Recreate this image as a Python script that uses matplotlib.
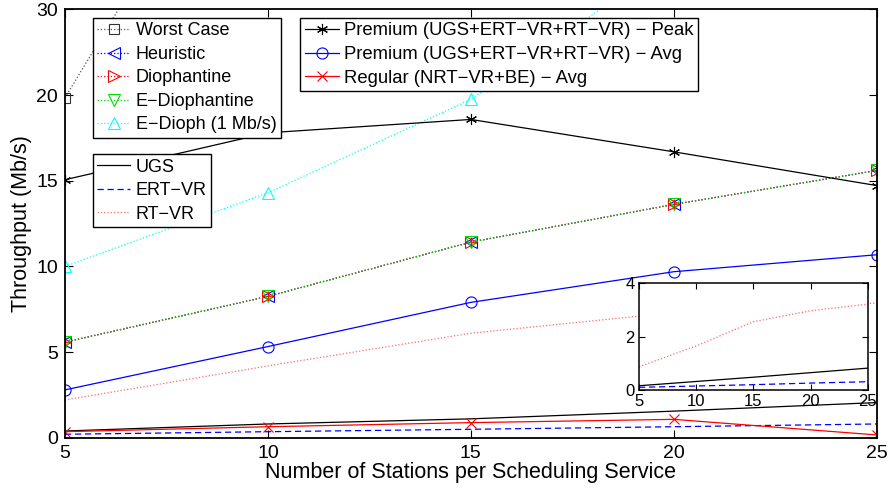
import matplotlib
matplotlib.use("Agg")
import matplotlib.pyplot as plt

plt.rcParams['font.family'] = ['Liberation Sans', 'DejaVu Sans']

stations = [5, 10, 15, 20, 25]

# Allocation schemes (Mb/s)
worst_case = [19.85, 39.4, 59.0, 78.5, 98.0]
heuristic = [5.58, 8.25, 11.42, 13.62, 15.6]
diophantine = [5.58, 8.25, 11.42, 13.62, 15.6]
e_diophantine = [5.58, 8.25, 11.42, 13.62, 15.6]
e_dioph_1mbps = [10.0, 14.3, 19.75, 28.0, 36.0]

# Per-service throughput (Mb/s)
ugs = [0.39, 0.8, 1.1, 1.55, 2.05]
ert_vr = [0.2, 0.35, 0.49, 0.64, 0.8]
rt_vr = [2.2, 4.19, 6.1, 7.3, 7.86]

premium_peak = [15.06, 17.8, 18.58, 16.69, 14.72]
premium_avg = [2.79, 5.32, 7.9, 9.69, 10.68]
regular_avg = [0.35, 0.64, 0.88, 1.07, 0.16]

# Inset series
inset_ugs = [0.16, 0.32, 0.48, 0.65, 0.82]
inset_ert_vr = [0.1, 0.15, 0.2, 0.26, 0.31]
inset_rt_vr = [0.87, 1.65, 2.56, 2.97, 3.22]

y_ticks = [0, 5, 10, 15, 20, 25]
y_tick_labels = ['0', '5', '10', '15', '20', '30']
x_ticks = [5, 10, 15, 20, 25]

PINK = '#ff6a6a'
LW = 0.9
ASTERISK = (6, 2, 0)

fig = plt.figure(figsize=(8.89, 4.94), dpi=100)
ax = fig.add_axes([0.0731, 0.114, 0.9131, 0.8668])

ms = 8
h_worst, = ax.plot(stations, worst_case, ':', color='#555555', lw=LW,
                   marker='s', ms=7, mfc='none', mec='#333333', mew=0.8)
h_heur, = ax.plot(stations, heuristic, ':', color='blue', lw=LW,
                  marker='<', ms=ms, mfc='none', mec='blue', mew=0.8)
h_dio, = ax.plot(stations, diophantine, ':', color='red', lw=LW,
                 marker='>', ms=ms, mfc='none', mec='red', mew=0.8)
ax.plot(stations, diophantine, linestyle='none', marker='+', ms=7,
        mec='red', mew=0.9)
h_edio, = ax.plot(stations, e_diophantine, ':', color='#00cc00', lw=LW,
                  marker='v', ms=ms, mfc='none', mec='#00dd00', mew=0.8)
h_e1, = ax.plot(stations, e_dioph_1mbps, ':', color='cyan', lw=LW,
                marker='^', ms=ms, mfc='none', mec='cyan', mew=0.8)

h_ugs, = ax.plot(stations, ugs, '-', color='black', lw=LW)
h_ert, = ax.plot(stations, ert_vr, '--', color='blue', lw=LW, dashes=(5, 3))
h_rt, = ax.plot(stations, rt_vr, ':', color=PINK, lw=LW)

h_peak, = ax.plot(stations, premium_peak, '-', color='black', lw=LW,
                  marker=ASTERISK, ms=8, mfc='none', mec='black', mew=0.8)
h_avg, = ax.plot(stations, premium_avg, '-', color='blue', lw=LW,
                 marker='o', ms=8, mfc='none', mec='blue', mew=0.8)
h_reg, = ax.plot(stations, regular_avg, '-', color='red', lw=LW,
                 marker='x', ms=7, mec='red', mew=0.8)

ax.set_xlim(5, 25)
ax.set_ylim(0, 25)
ax.set_xticks(x_ticks)
ax.set_yticks(y_ticks)
ax.set_yticklabels(y_tick_labels)
ax.tick_params(direction='in', length=6, width=0.8, top=True, right=True,
               labelsize=14, pad=5)
for sp in ax.spines.values():
    sp.set_linewidth(1.3)
ax.set_xlabel('Number of Stations per Scheduling Service', fontsize=15.5, labelpad=0)
ax.set_ylabel('Throughput (Mb/s)', fontsize=15.5, labelpad=3)

leg_kw = dict(frameon=True, fancybox=False, framealpha=1,
              edgecolor='black', borderpad=0.25, labelspacing=0.36,
              handlelength=1.85, handletextpad=0.3, borderaxespad=0)

leg1 = ax.legend([h_worst, h_heur, h_dio, h_edio, h_e1],
                 ['Worst Case', 'Heuristic', 'Diophantine', 'E\u2212Diophantine',
                  'E\u2212Dioph (1 Mb/s)'],
                 loc='upper left', bbox_to_anchor=(0.0339, 0.9805),
                 fontsize=13, **leg_kw)
leg1.get_frame().set_linewidth(1.0)
ax.add_artist(leg1)

leg2 = ax.legend([h_ugs, h_ert, h_rt], ['UGS', 'ERT\u2212VR', 'RT\u2212VR'],
                 loc='upper left', bbox_to_anchor=(0.0339, 0.662),
                 fontsize=13, **leg_kw)
leg2.get_frame().set_linewidth(1.0)
ax.add_artist(leg2)

leg3 = ax.legend([h_peak, h_avg, h_reg],
                 ['Premium (UGS+ERT\u2212VR+RT\u2212VR) \u2212 Peak',
                  'Premium (UGS+ERT\u2212VR+RT\u2212VR) \u2212 Avg',
                  'Regular (NRT\u2212VR+BE) \u2212 Avg'],
                 loc='upper left', bbox_to_anchor=(0.2895, 0.9805),
                 fontsize=13.3, **leg_kw)
leg3.get_frame().set_linewidth(1.0)

# Inset
axi = fig.add_axes([0.7188, 0.2105, 0.2572, 0.216])
axi.plot(stations, inset_ugs, '-', color='black', lw=LW)
axi.plot(stations, inset_ert_vr, '--', color='blue', lw=LW, dashes=(5, 3))
axi.plot(stations, inset_rt_vr, ':', color=PINK, lw=LW)
axi.set_xlim(5, 25)
axi.set_ylim(0, 4)
axi.set_xticks(x_ticks)
axi.set_yticks([0, 2, 4])
axi.tick_params(direction='in', length=4, width=0.8, top=True, right=True,
                labelsize=12, pad=3)
for sp in axi.spines.values():
    sp.set_linewidth(1.1)

fig.savefig('out.png', dpi=100)
